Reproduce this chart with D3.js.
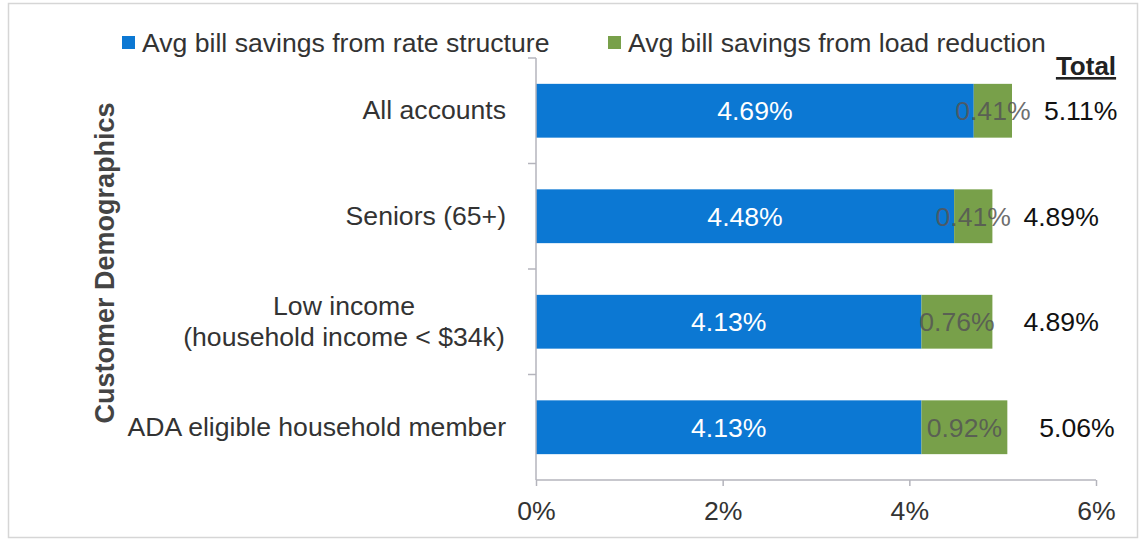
<!DOCTYPE html>
<html>
<head>
<meta charset="utf-8">
<script src="https://cdn.jsdelivr.net/npm/d3@7"></script>
<style>
  html, body { margin: 0; padding: 0; background: #fff; }
  svg { display: block; font-family: "Liberation Sans", Arial, sans-serif; }
</style>
</head>
<body>
<svg id="chart" width="1142" height="540"></svg>
<script>
// Categories (top to bottom) with their two stacked savings components, in percent
const categories = [
  ["All accounts"],
  ["Seniors (65+)"],
  ["Low income", "(household income < $34k)"],
  ["ADA eligible household member"]
];
const rateSavings = [4.69, 4.48, 4.13, 4.13];
const loadSavings = [0.41, 0.41, 0.76, 0.92];
const totals = [5.11, 4.89, 4.89, 5.06];
const seriesNames = ["Avg bill savings from rate structure", "Avg bill savings from load reduction"];
const xTicks = [0, 2, 4, 6];

const colors = ["#0c78d3", "#78a04a"];
const FS = 26.6;

const svg = d3.select("#chart");
const margin = { left: 536, right: 46, top: 58, bottom: 60 };
const W = 1142, H = 540;

// outer frame
svg.append("rect")
  .attr("x", 8.5).attr("y", 3.5)
  .attr("width", W - 13).attr("height", H - 6)
  .attr("fill", "none").attr("stroke", "#d6d6d6").attr("stroke-width", 1.5);

const x = d3.scaleLinear().domain([0, 6]).range([margin.left, W - margin.right]);
const keys = categories.map((c, i) => i);
const y = d3.scaleBand().domain(keys).range([margin.top, H - margin.bottom]).paddingInner(0.49).paddingOuter(0.245);

const rows = keys.map(i => ({ i, rate: rateSavings[i], load: loadSavings[i], total: totals[i] }));
const stack = d3.stack().keys(["rate", "load"])(rows);

// bars
stack.forEach((layer, li) => {
  svg.append("g").selectAll("rect").data(layer).join("rect")
    .attr("x", d => x(d[0]))
    .attr("y", d => y(d.data.i))
    .attr("width", d => x(d[1]) - x(d[0]))
    .attr("height", y.bandwidth())
    .attr("fill", colors[li]);
});

// segment value labels
stack.forEach((layer, li) => {
  svg.append("g").selectAll("text").data(layer).join("text")
    .attr("x", d => (x(d[0]) + x(d[1])) / 2)
    .attr("y", d => y(d.data.i) + y.bandwidth() / 2)
    .attr("dy", "0.36em")
    .attr("text-anchor", "middle")
    .attr("font-size", FS)
    .attr("fill", li === 0 ? "#ffffff" : "#555555")
    .attr("fill-opacity", li === 0 ? 1 : 0.85)
    .text(d => (d[1] - d[0]).toFixed(2) + "%");
});

// totals to the right
svg.append("g").selectAll("text").data(rows).join("text")
  .attr("x", d => x(d.total) + 31)
  .attr("y", d => y(d.i) + y.bandwidth() / 2)
  .attr("dy", "0.36em")
  .attr("font-size", FS)
  .attr("fill", "#111")
  .text(d => d.total.toFixed(2) + "%");

svg.append("text")
  .attr("x", 1086).attr("y", 75)
  .attr("text-anchor", "middle")
  .attr("font-size", 26).attr("font-weight", "bold")
  .attr("fill", "#222")
  .attr("text-decoration", "underline")
  .text("Total");

// x axis
const xAxis = svg.append("g")
  .attr("transform", `translate(0,${H - margin.bottom})`)
  .call(d3.axisBottom(x).tickValues(xTicks).tickFormat(d => d + "%").tickSize(6).tickPadding(15));
xAxis.select(".domain").attr("stroke", "#b4b4bc").attr("stroke-width", 1.5)
  .attr("d", `M${x(0)},0H${x(6)}`);
xAxis.selectAll(".tick line").attr("stroke", "#b4b4bc").attr("stroke-width", 1.5);
xAxis.selectAll(".tick text").attr("font-size", FS).attr("fill", "#333").attr("font-family", "Liberation Sans, Arial, sans-serif");

// y axis line with category separator ticks
const yTop = margin.top, yBot = H - margin.bottom;
svg.append("line")
  .attr("x1", x(0)).attr("x2", x(0)).attr("y1", yTop).attr("y2", yBot)
  .attr("stroke", "#b4b4bc").attr("stroke-width", 1.5);
const sepYs = [yTop].concat(keys.slice(1).map(i => y(i) - y.step() * y.paddingInner() / 2));
svg.append("g").selectAll("line").data(sepYs).join("line")
  .attr("x1", x(0) - 8).attr("x2", x(0))
  .attr("y1", d => d).attr("y2", d => d)
  .attr("stroke", "#b4b4bc").attr("stroke-width", 1.5);

// category labels
const catG = svg.append("g");
categories.forEach((lines, i) => {
  const cy = y(i) + y.bandwidth() / 2;
  const lh = 31;
  const t = catG.append("text")
    .attr("font-size", FS).attr("fill", "#333")
    .attr("text-anchor", lines.length > 1 ? "middle" : "end");
  lines.forEach((s, k) => {
    t.append("tspan")
      .attr("x", lines.length > 1 ? 344 : 506)
      .attr("y", cy - 1 + (k - (lines.length - 1) / 2) * lh)
      .attr("dy", "0.36em")
      .text(s);
  });
});

// y axis title
svg.append("text")
  .attr("transform", `translate(104,${(yTop + yBot) / 2 - 6}) rotate(-90)`)
  .attr("text-anchor", "middle")
  .attr("dy", "0.36em")
  .attr("font-size", 27).attr("font-weight", "bold").attr("fill", "#444")
  .text("Customer Demographics");

// legend
const legendX = [122, 608];
seriesNames.forEach((name, i) => {
  const g = svg.append("g").attr("transform", `translate(${legendX[i]},36)`);
  g.append("rect").attr("width", 13).attr("height", 13).attr("fill", colors[i]);
  g.append("text").attr("x", 20).attr("y", 6.5).attr("dy", "0.36em")
    .attr("font-size", FS).attr("fill", "#333").text(name);
});
</script>
</body>
</html>
